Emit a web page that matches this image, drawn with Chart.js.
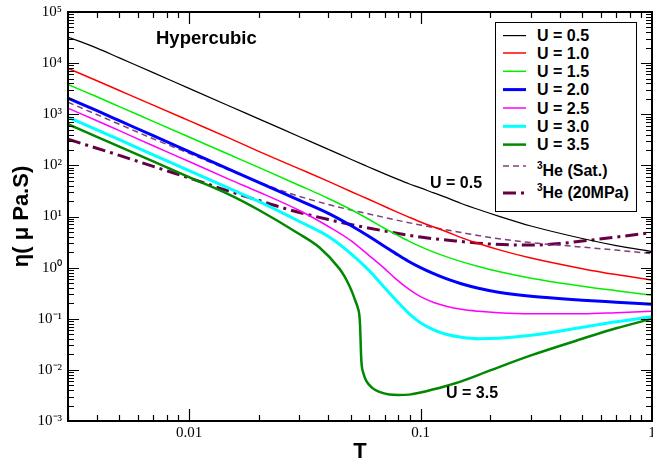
<!DOCTYPE html>
<html><head><meta charset="utf-8">
<script src="https://cdn.jsdelivr.net/npm/chart.js@4.4.0/dist/chart.umd.min.js"></script>
<style>
html,body{margin:0;padding:0;background:#fff;}
#wrap{position:relative;width:653px;height:464px;overflow:hidden;background:#fff;}
#c{position:absolute;left:0;top:0;}
.lbl{position:absolute;font-family:"Liberation Sans",Arial,sans-serif;font-weight:bold;font-size:16px;line-height:16px;white-space:nowrap;color:#000;}
#legend{position:absolute;left:495px;top:22px;width:142px;height:190px;border:1px solid #000;background:#fff;box-sizing:border-box;}
#legend .it{position:absolute;left:41px;font-family:"Liberation Sans",Arial,sans-serif;font-weight:bold;font-size:16px;line-height:16px;white-space:nowrap;}
#legend svg{position:absolute;left:0;top:0;}
.sup{font-size:10px;position:relative;top:-7px;}
</style></head><body>
<div id="wrap">
<canvas id="c" width="653" height="464"></canvas>
<div class="lbl" style="left:156px;top:29px;font-size:18.5px;line-height:18.5px;">Hypercubic</div>
<div class="lbl" style="left:430px;top:175px;">U = 0.5</div>
<div class="lbl" style="left:446px;top:385px;">U = 3.5</div>
<div id="legend"></div>
</div>
<script>
// ---- data ----
const T = [0.003,0.004,0.005,0.007,0.01,0.015,0.02,0.03,0.04,0.05,0.06,0.07,0.078,0.089,0.1,0.114,0.129,0.15,0.178,0.217,0.3,0.5,0.7,1.0];
const U05 = [32360,19680,12650,6516,3206,1435,813,364,206,132,92.2,68.1,55.6,43.7,36.2,28.9,23.6,18.0,13.7,10.2,6.52,3.71,2.70,2.06];
const U10 = [7870,4518,2917,1508,749,338,188,85.4,48.6,30.9,21.5,15.7,12.6,9.73,7.8,6.22,5.08,3.87,2.96,2.25,1.54,0.955,0.73,0.569];
const U15 = [3822,2193,1409,726,359,161,91.4,40.5,22.5,13.7,8.73,5.82,4.5,3.31,2.58,2.01,1.64,1.31,1.05,0.836,0.622,0.434,0.354,0.289];
const U20 = [2060,1172,749,380,186.6,82.7,46.4,20.6,11.5,6.66,4.06,2.58,1.9,1.32,1.0,0.762,0.608,0.485,0.396,0.331,0.276,0.231,0.211,0.192];
const U25 = [1312,746,477,242,119,52.7,30.2,13.1,6.37,3.38,1.72,0.955,0.608,0.378,0.27,0.208,0.176,0.153,0.14,0.131,0.125,0.125,0.131,0.14];
const U30 = [873,497,318,161,79.1,35.1,19.7,7.98,4.06,1.88,0.873,0.405,0.236,0.128,0.0836,0.0608,0.0497,0.0434,0.0406,0.0415,0.0474,0.068,0.0873,0.109];
const T35 = [0.003,0.004,0.005,0.007,0.01,0.015,0.0202,0.0292,0.0366,0.04462,0.04688,0.04926,0.05075,0.05228,0.05358,0.05439,0.05482,0.0551,0.05537,0.05575,0.05659,0.0583,0.062,0.0664,0.0733,0.08,0.0893,0.1,0.129,0.15,0.2,0.3,0.5,0.7,1.0];
const U35 = [637,361,233,120,59,26.5,13.1,4.86,2.47,0.956,0.681,0.443,0.324,0.225,0.1644,0.1197,0.073,0.0371,0.0188,0.01197,0.00873,0.00608,0.0044,0.0037,0.0033,0.00324,0.00328,0.00362,0.00485,0.00596,0.00977,0.0192,0.0406,0.0652,0.1];
const TSat = [0.003,0.005,0.007,0.01,0.015,0.02,0.0246,0.03,0.04,0.05,0.06,0.07,0.1,0.15,0.2,0.3,0.5,0.7,1.0];
const HeSat = [1718,637,331,172,79.8,47.5,33.1,24.7,17.2,13.4,11.2,9.55,6.81,4.86,3.87,3.09,2.52,2.2,1.88];
const T20 = [0.003,0.005,0.007,0.01,0.015,0.02,0.0246,0.03,0.04,0.05,0.07,0.1,0.15,0.2,0.3,0.4,0.5,0.7,1.0];
const He20 = [324,157,95.5,56.9,30.9,20.6,15.4,12.0,8.73,6.97,5.2,3.96,3.24,2.89,2.76,2.96,3.31,3.96,4.86];
const xTickLabels = ['0.01','0.1','1'];

const pts = (xs, ys) => xs.map((x,i)=>({x, y: ys[i]}));

const series = [
  {label:'U = 0.5', data:pts(T,U05), color:'#000000', w:1.2},
  {label:'U = 1.0', data:pts(T,U10), color:'#ff0000', w:1.5},
  {label:'U = 1.5', data:pts(T,U15), color:'#00ee00', w:1.5},
  {label:'U = 2.0', data:pts(T,U20), color:'#0000ff', w:3},
  {label:'U = 2.5', data:pts(T,U25), color:'#ff00ff', w:1.5},
  {label:'U = 3.0', data:pts(T,U30), color:'#00ffff', w:3},
  {label:'U = 3.5', data:pts(T35,U35), color:'#008800', w:2.5},
  {label:'3He (Sat.)', html:'<span class="sup">3</span>He (Sat.)', data:pts(TSat,HeSat), color:'#7f3f7f', w:1.5, dash:[6,4]},
  {label:'3He (20MPa)', html:'<span class="sup">3</span>He (20MPa)', data:pts(T20,He20), color:'#660044', w:3, dash:[13,5,3,5]}
];

const supMap = {'-':'\u207B','0':'\u2070','1':'\u00B9','2':'\u00B2','3':'\u00B3','4':'\u2074','5':'\u2075'};
const isDecade = v => Math.abs(Math.log10(v) - Math.round(Math.log10(v))) < 1e-6;

const frameTicks = {
  id:'frameTicks',
  afterDraw(chart){
    const {ctx, chartArea:a, scales:{x,y}} = chart;
    ctx.save();
    ctx.strokeStyle='#000';
    ctx.lineWidth=1.2;
    ctx.beginPath();
    for (let e=-3;e<=5;e++) for (let m=1;m<=9;m++){
      const v=m*Math.pow(10,e); if (v>1e5*1.0001) continue;
      const py=Math.round(y.getPixelForValue(v))+0.5; const L=(m===1)?11:6;
      ctx.moveTo(a.left,py); ctx.lineTo(a.left+L,py);
      ctx.moveTo(a.right,py); ctx.lineTo(a.right-L,py);
    }
    for (let e=-3;e<=0;e++) for (let m=1;m<=9;m++){
      const v=m*Math.pow(10,e); if (v<0.003*0.9999||v>1.0001) continue;
      const px=Math.round(x.getPixelForValue(v))+0.5; const L=(m===1)?12:6;
      ctx.moveTo(px,a.bottom); ctx.lineTo(px,a.bottom-L);
      ctx.moveTo(px,a.top); ctx.lineTo(px,a.top+L);
    }
    ctx.stroke();
    ctx.lineWidth=2;
    ctx.strokeRect(a.left,a.top,a.right-a.left,a.bottom-a.top);
    ctx.restore();
  }
};

new Chart(document.getElementById('c'), {
  type:'line',
  data:{datasets: series.map(s=>({
    label:s.label, data:s.data, borderColor:s.color, backgroundColor:s.color,
    borderWidth:s.w, borderDash:s.dash||[], pointRadius:0, fill:false,
    tension:0.4, cubicInterpolationMode:'monotone'
  }))},
  options:{
    responsive:false, animation:false, devicePixelRatio:1,
    layout:{padding:{top:12,right:1,left:0,bottom:0}},
    plugins:{legend:{display:false}, tooltip:{enabled:false}},
    scales:{
      x:{type:'logarithmic', min:0.003, max:1,
        grid:{display:false, drawTicks:false},
        border:{display:false},
        ticks:{autoSkip:false, maxRotation:0, padding:3, color:'#000',
          font:{family:'"Liberation Serif", "Times New Roman", serif', size:15},
          callback:(v)=>{ if(!isDecade(v)) return ''; const s=String(Number(v.toPrecision(3))); return xTickLabels.includes(s)?s:''; }},
        title:{display:true, text:'T', color:'#000', padding:0,
          font:{family:'"Liberation Sans", Arial, sans-serif', size:22, weight:'bold', lineHeight:1.1}},
        afterFit:(s)=>{ s.height=43; s.paddingLeft=0; s.paddingRight=0; }
      },
      y:{type:'logarithmic', min:1e-3, max:1e5,
        grid:{display:false, drawTicks:false},
        border:{display:false},
        ticks:{autoSkip:false, padding:6, color:'#000',
          font:{family:'"Liberation Serif", "Times New Roman", serif', size:15},
          callback:(v)=>{ if(!isDecade(v)) return ''; const e=String(Math.round(Math.log10(v))); return '10'+e.split('').map(c=>supMap[c]).join(''); }},
        title:{display:true, text:'\u03B7( \u03BC Pa.S)', color:'#000', padding:{top:10,bottom:0},
          font:{family:'"Liberation Sans", Arial, sans-serif', size:22, weight:'bold', lineHeight:1.1}},
        afterFit:(s)=>{ s.width=68; s.paddingTop=0; s.paddingBottom=0; }
      }
    }
  },
  plugins:[frameTicks]
});

// HTML legend built from the series
const lineY = [12.6,30,48.3,66.6,85,103.3,121.6,143,170];
const textTop = [5,22.5,41,59,77.5,95.8,114,140.3,162];
const leg = document.getElementById('legend');
let svg = '<svg width="140" height="188" xmlns="http://www.w3.org/2000/svg">';
series.forEach((s,i)=>{
  svg += `<line x1="7" x2="30" y1="${lineY[i]}" y2="${lineY[i]}" stroke="${s.color}" stroke-width="${s.w}" ${s.dash?`stroke-dasharray="${s.dash.join(',')}"`:''}/>`;
});
svg += '</svg>';
leg.innerHTML = svg + series.map((s,i)=>`<div class="it" style="top:${textTop[i]}px">${s.html||s.label}</div>`).join('');
</script>
</body></html>
